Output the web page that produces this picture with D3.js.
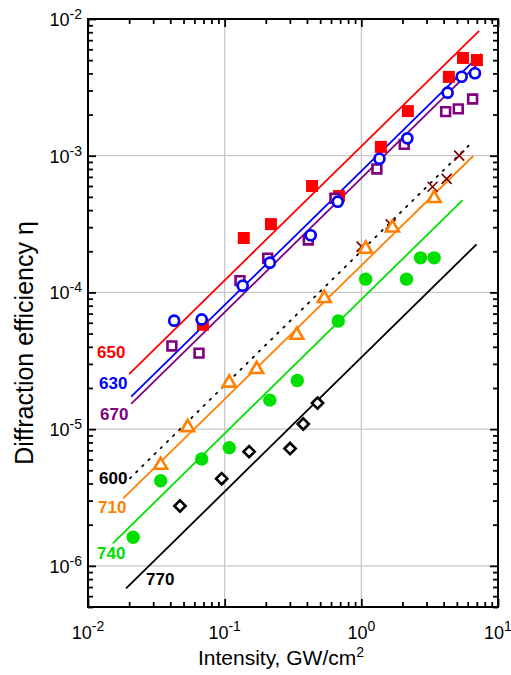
<!DOCTYPE html>
<html><head><meta charset="utf-8">
<script src="https://cdn.jsdelivr.net/npm/d3@7"></script>
<style>
html,body{margin:0;padding:0;background:#fff;}
text{font-family:Arial,"Liberation Sans",sans-serif;}
</style></head>
<body>
<svg id="chart" width="511" height="675"></svg>
<script>
// ---------- DATA ----------
const categories = ["650", "630", "670", "600", "710", "740", "770"];

const I650 = [0.0693, 0.138, 0.218, 0.436, 0.686, 1.39, 2.19, 4.37, 5.54, 7.01];
const E650 = [5.8e-5, 2.5e-4, 3.16e-4, 6.0e-4, 5.07e-4, 1.16e-3, 2.12e-3, 3.77e-3, 5.19e-3, 5.01e-3];

const I630 = [0.0427, 0.0679, 0.1355, 0.214, 0.426, 0.672, 1.357, 2.17, 4.28, 5.42, 6.78];
const E630 = [6.21e-5, 6.35e-5, 1.12e-4, 1.65e-4, 2.62e-4, 4.61e-4, 9.5e-4, 1.34e-3, 2.89e-3, 3.78e-3, 4.01e-3];

const I670 = [0.0411, 0.0649, 0.1294, 0.2065, 0.409, 0.641, 1.30, 2.06, 4.14, 5.12, 6.52];
const E670 = [4.06e-5, 3.6e-5, 1.22e-4, 1.78e-4, 2.42e-4, 4.88e-4, 8.0e-4, 1.21e-3, 2.10e-3, 2.2e-3, 2.6e-3];

const I600 = [1.005, 1.64, 3.32, 4.21, 5.2];
const E600 = [2.16e-4, 3.15e-4, 5.93e-4, 6.76e-4, 1.0e-3];

const I710 = [0.034, 0.0536, 0.108, 0.1714, 0.337, 0.536, 1.075, 1.69, 3.41];
const E710 = [5.46e-6, 1.03e-5, 2.18e-5, 2.74e-5, 4.88e-5, 9.06e-5, 2.08e-4, 2.97e-4, 4.88e-4];

const I740 = [0.0214, 0.034, 0.0679, 0.108, 0.214, 0.34, 0.678, 1.075, 2.14, 2.71, 3.41];
const E740 = [1.62e-6, 4.19e-6, 6.04e-6, 7.31e-6, 1.63e-5, 2.27e-5, 6.18e-5, 1.25e-4, 1.25e-4, 1.79e-4, 1.79e-4];

const I770 = [0.0471, 0.0951, 0.151, 0.301, 0.376, 0.478];
const E770 = [2.74e-6, 4.34e-6, 6.84e-6, 7.21e-6, 1.09e-5, 1.55e-5];

// fit lines: [I start, I end], [eta start, eta end]
const fitI650 = [0.02, 7.28],   fitE650 = [2.53e-5, 8.2e-3];
const fitI630 = [0.0207, 7.5],  fitE630 = [1.73e-5, 5.55e-3];
const fitI670 = [0.0207, 7.59], fitE670 = [1.53e-5, 5.0e-3];
const fitI600 = [0.0203, 6.41], fitE600 = [4.37e-6, 1.245e-3];
const fitI710 = [0.0181, 6.59], fitE710 = [3.12e-6, 9.95e-4];
const fitI740 = [0.0152, 5.51], fitE740 = [1.46e-6, 4.74e-4];
const fitI770 = [0.019, 6.97],  fitE770 = [6.84e-7, 2.25e-4];

const xTickExps = [-2, -1, 0, 1];
const yTickExps = [-6, -5, -4, -3, -2];

// ---------- LAYOUT ----------
const svg = d3.select("#chart");
const L = 88, R = 498, T = 19, B = 607;
const x = d3.scaleLog().domain([0.01, 10]).range([L, R]);
const y = d3.scaleLog().domain([5e-7, 1e-2]).range([B, T]);

const colors = {"650":"#ff0000","630":"#0000ff","670":"#800080","600":"#000000","710":"#ff8000","740":"#00e000","770":"#000000"};

// grid
const gGrid = svg.append("g");
[0.1, 1].forEach(v => gGrid.append("line").attr("x1", x(v)).attr("x2", x(v)).attr("y1", T).attr("y2", B)
  .attr("stroke", "#c8c8c8").attr("stroke-width", 1.3));
[1e-6, 1e-5, 1e-4, 1e-3].forEach(v => gGrid.append("line").attr("y1", y(v)).attr("y2", y(v)).attr("x1", L).attr("x2", R)
  .attr("stroke", "#c8c8c8").attr("stroke-width", 1.3));

// ticks
const majX = xTickExps.map(e => Math.pow(10, e));
const majY = yTickExps.map(e => Math.pow(10, e));
const minX = x.ticks().filter(v => !majX.some(m => Math.abs(m - v) / m < 1e-6));
const minY = y.ticks().filter(v => !majY.some(m => Math.abs(m - v) / m < 1e-6));

function axisG(axisFn, scale, vals, size, tx, ty) {
  const g = svg.append("g").attr("transform", `translate(${tx},${ty})`)
    .call(axisFn(scale).tickValues(vals).tickSize(size).tickSizeOuter(0).tickFormat(""));
  g.select(".domain").remove();
  g.selectAll(".tick line").attr("stroke", "#000").attr("stroke-width", 1.8);
  return g;
}
axisG(d3.axisBottom, x, majX, -8, 0, B);
axisG(d3.axisBottom, x, minX, -5, 0, B);
axisG(d3.axisTop, x, majX, -8, 0, T);
axisG(d3.axisTop, x, minX, -5, 0, T);
axisG(d3.axisLeft, y, majY, -8, L, 0);
axisG(d3.axisLeft, y, minY, -5, L, 0);
axisG(d3.axisRight, y, majY, -8, R, 0);
axisG(d3.axisRight, y, minY, -5, R, 0);

// frame
svg.append("rect").attr("x", L).attr("y", T).attr("width", R - L).attr("height", B - T)
  .attr("fill", "none").attr("stroke", "#000").attr("stroke-width", 2);

// tick labels
xTickExps.forEach(e => {
  const t = svg.append("text").attr("x", x(Math.pow(10, e))).attr("y", 639)
    .attr("text-anchor", "middle").attr("font-size", 18).attr("fill", "#000");
  t.append("tspan").text("10");
  t.append("tspan").attr("dy", -8).attr("font-size", 14).text(String(e));
});
yTickExps.forEach(e => {
  const t = svg.append("text").attr("x", 82).attr("y", y(Math.pow(10, e)) + 7)
    .attr("text-anchor", "end").attr("font-size", 18).attr("fill", "#000");
  t.append("tspan").text("10");
  t.append("tspan").attr("dy", -7).attr("font-size", 14).text(String(e));
});

// axis titles
const xt = svg.append("text").attr("x", 281).attr("y", 665).attr("text-anchor", "middle")
  .attr("font-size", 21).attr("fill", "#000");
xt.append("tspan").text("Intensity, GW/cm");
xt.append("tspan").attr("dy", -8).attr("font-size", 14).text("2");

svg.append("text").attr("transform", "translate(33,343) rotate(-90)").attr("text-anchor", "middle")
  .attr("font-size", 25).attr("fill", "#000").text("Diffraction efficiency \u03b7");

// fit lines
const lineGen = d3.line().x(d => x(d[0])).y(d => y(d[1]));
const fits = [
  ["650", fitI650, fitE650, null],
  ["630", fitI630, fitE630, null],
  ["670", fitI670, fitE670, null],
  ["600", fitI600, fitE600, "1.6 7"],
  ["710", fitI710, fitE710, null],
  ["740", fitI740, fitE740, null],
  ["770", fitI770, fitE770, null]
];
const gLines = svg.append("g");
fits.forEach(([k, fi, fe, dash]) => {
  const p = gLines.append("path").datum(d3.zip(fi, fe)).attr("d", lineGen)
    .attr("fill", "none").attr("stroke", colors[k]).attr("stroke-width", 1.8);
  if (dash) p.attr("stroke-dasharray", dash).attr("stroke-linecap", "round");
});

// markers
const gM = svg.append("g");
function pts(I, E) { return d3.zip(I, E); }
function sqPath(h) { return `M${-h},${-h}H${h}V${h}H${-h}Z`; }
function triPath(s) { const h = s * Math.sqrt(3) / 2; return `M0,${-h * 2 / 3}L${s / 2},${h / 3}L${-s / 2},${h / 3}Z`; }
function diaPath(h) { return `M0,${-h}L${h},0L0,${h}L${-h},0Z`; }
function xPath(h) { return `M${-h},${-h}L${h},${h}M${-h},${h}L${h},${-h}`; }

// 650 red filled squares
gM.selectAll(".m650").data(pts(I650, E650)).join("path")
  .attr("transform", d => `translate(${x(d[0])},${y(d[1])})`).attr("d", sqPath(6))
  .attr("fill", colors["650"]);
// 670 purple open squares
gM.selectAll(".m670").data(pts(I670, E670)).join("path")
  .attr("transform", d => `translate(${x(d[0])},${y(d[1])})`).attr("d", sqPath(4.4))
  .attr("fill", "#fff").attr("stroke", colors["670"]).attr("stroke-width", 2.6);
// 630 blue open circles
gM.selectAll(".m630").data(pts(I630, E630)).join("circle")
  .attr("cx", d => x(d[0])).attr("cy", d => y(d[1])).attr("r", 5)
  .attr("fill", "#fff").attr("stroke", colors["630"]).attr("stroke-width", 2.7);
// 600 dark red crosses
gM.selectAll(".m600").data(pts(I600, E600)).join("path")
  .attr("transform", d => `translate(${x(d[0])},${y(d[1])})`).attr("d", xPath(5))
  .attr("fill", "none").attr("stroke", "#800000").attr("stroke-width", 1.7);
// 710 orange open triangles
gM.selectAll(".m710").data(pts(I710, E710)).join("path")
  .attr("transform", d => `translate(${x(d[0])},${y(d[1])})`).attr("d", triPath(13))
  .attr("fill", "#fff").attr("stroke", colors["710"]).attr("stroke-width", 2.6).attr("stroke-linejoin", "miter");
// 740 green filled circles
gM.selectAll(".m740").data(pts(I740, E740)).join("circle")
  .attr("cx", d => x(d[0])).attr("cy", d => y(d[1])).attr("r", 6.7)
  .attr("fill", colors["740"]);
// 770 black open diamonds
gM.selectAll(".m770").data(pts(I770, E770)).join("path")
  .attr("transform", d => `translate(${x(d[0])},${y(d[1])})`).attr("d", diaPath(5.6))
  .attr("fill", "#fff").attr("stroke", colors["770"]).attr("stroke-width", 2.6);

// series labels
const labelPos = {"650":[97,358],"630":[99,389],"670":[100,420],"600":[99,484],"710":[98,513],"740":[97,559],"770":[146,585]};
categories.forEach(k => {
  svg.append("text").attr("x", labelPos[k][0]).attr("y", labelPos[k][1])
    .attr("font-size", 17).attr("font-weight", "bold").attr("fill", colors[k]).text(k);
});
</script>
</body></html>
